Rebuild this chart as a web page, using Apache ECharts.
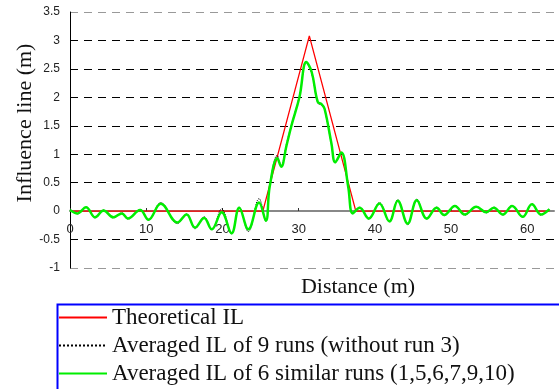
<!DOCTYPE html>
<html>
<head>
<meta charset="utf-8">
<script src="https://cdn.jsdelivr.net/npm/echarts@6/dist/echarts.min.js"></script>
<style>
  html, body { margin: 0; padding: 0; background: #fff; }
  #chart { width: 559px; height: 389px; }
</style>
</head>
<body>
<div id="chart"></div>
<script>
// theoretical influence line (triangle)
const theoX = [0, 25.3, 31.4, 37.5, 62.9]
const theoY = [0, 0, 3.08, 0, 0]

// averaged IL of 9 runs (without run 3)
const avg9X = [0, 1.0, 2.1, 3.3, 4.4, 5.7, 6.8, 7.6, 9.2, 10.3, 11.9, 14.1, 15.3, 16.4, 17.6, 18.6, 19.9, 21.2, 22.2, 23.4, 24.8, 25.7, 26.2, 27.2, 27.7, 28.4, 29.05, 30.1, 31.0, 31.7, 32.5, 33.0, 33.4, 34.3, 34.8, 35.6, 36.5, 37.1, 38.0, 39.2, 40.6, 41.9, 43.0, 44.3, 45.5, 46.8, 48.1, 49.1, 50.5, 51.8, 53.3, 54.6, 55.6, 56.8, 58.0, 59.4, 60.6, 61.8, 62.9]
const avg9Y = [0.03, -0.05, 0.07, -0.12, 0.02, -0.12, -0.03, -0.14, 0.03, -0.16, 0.15, -0.22, -0.05, -0.31, -0.1, -0.33, 0.04, -0.4, 0.07, -0.36, 0.22, -0.18, 0.45, 0.98, 0.8, 1.18, 1.52, 2.02, 2.6, 2.42, 1.9, 1.86, 1.78, 1.17, 0.85, 1.02, 0.42, -0.05, 0.07, -0.14, 0.15, -0.19, 0.2, -0.24, 0.21, -0.14, 0.07, -0.08, 0.1, -0.07, 0.08, -0.03, 0.07, -0.07, 0.1, -0.11, 0.13, -0.07, 0.04]

// averaged IL of 6 similar runs
const avg6X = [0, 1.0, 2.1, 3.3, 4.4, 5.7, 6.8, 7.6, 9.2, 10.3, 11.9, 14.1, 15.3, 16.4, 17.6, 18.6, 19.9, 21.2, 22.2, 23.4, 24.8, 25.7, 26.2, 27.2, 27.7, 28.4, 29.05, 30.1, 31.0, 31.7, 32.5, 33.0, 33.4, 34.3, 34.8, 35.6, 36.5, 37.1, 38.0, 39.2, 40.6, 41.9, 43.0, 44.3, 45.5, 46.8, 48.1, 49.1, 50.5, 51.8, 53.3, 54.6, 55.6, 56.8, 58.0, 59.4, 60.6, 61.8, 62.9]
const avg6Y = [0.02, -0.04, 0.07, -0.11, 0.01, -0.11, -0.04, -0.13, 0.02, -0.15, 0.13, -0.2, -0.06, -0.29, -0.12, -0.32, -0.02, -0.39, 0.06, -0.32, 0.15, -0.17, 0.43, 0.93, 0.78, 1.15, 1.5, 2.0, 2.62, 2.45, 1.92, 1.88, 1.8, 1.19, 0.86, 1.03, 0.43, -0.04, 0.06, -0.13, 0.135, -0.18, 0.18, -0.22, 0.19, -0.13, 0.06, -0.07, 0.09, -0.06, 0.075, -0.02, 0.06, -0.06, 0.09, -0.1, 0.12, -0.06, 0.035]

const seriesNames = [
  'Theoretical IL',
  'Averaged IL of 9 runs (without run 3)',
  'Averaged IL of 6 similar runs (1,5,6,7,9,10)'
]

const zip = (xs, ys) => xs.map((x, i) => [x, ys[i]])

const chart = echarts.init(document.getElementById('chart'), null, { renderer: 'canvas' })

// split line colours: outer frame lines gray, inner ones black
const gridColors = ['#999', '#000', '#000', '#000', '#000', '#000', '#000', '#000', '#000', '#999']

const option = {
  animation: false,
  backgroundColor: '#fff',
  grid: { left: 70, top: 12, right: 5, bottom: 121 },
  xAxis: {
    type: 'value',
    min: 0,
    max: 63.5,
    interval: 10,
    // axis sits on y = 0 (57px above the grid bottom)
    offset: -57,
    axisLine: { onZero: false, lineStyle: { color: '#888', width: 2 } },
    axisTick: { show: true, inside: true, length: 3, lineStyle: { color: '#333' } },
    axisLabel: {
      margin: 12,
      showMaxLabel: false,
      color: '#222',
      fontFamily: 'Liberation Sans',
      fontSize: 13
    },
    splitLine: { show: false }
  },
  yAxis: {
    type: 'value',
    min: -1,
    max: 3.5,
    interval: 0.5,
    axisLine: { show: true, onZero: false, lineStyle: { color: '#000', width: 1 } },
    axisTick: { show: false },
    axisLabel: {
      margin: 10,
      color: '#222',
      fontFamily: 'Liberation Sans',
      fontSize: 12
    },
    splitLine: {
      show: true,
      lineStyle: { color: gridColors, type: [8, 6], width: 1 }
    }
  },
  legend: {
    orient: 'vertical',
    left: 55,
    top: 303,
    height: 150,
    padding: [3, 4, 4, 3],
    itemWidth: 48,
    itemHeight: 10,
    itemGap: 5,
    itemStyle: { opacity: 0 },
    textStyle: {
      fontFamily: 'Liberation Serif',
      fontSize: 23,
      lineHeight: 22,
      color: '#111'
    },
    data: seriesNames
  },
  graphic: [
    {
      type: 'rect',
      left: 55,
      top: 302,
      shape: { width: 520, height: 120 },
      style: { fill: 'none', stroke: '#0000ff', lineWidth: 2 },
      z: 0
    },
    {
      type: 'text',
      x: 358,
      y: 287,
      style: {
        text: 'Distance (m)',
        fontFamily: 'Liberation Serif',
        fontSize: 22,
        fill: '#111',
        align: 'center',
        verticalAlign: 'middle'
      }
    },
    {
      type: 'text',
      x: 25,
      y: 123,
      rotation: Math.PI / 2,
      style: {
        text: 'Influence line (m)',
        fontFamily: 'Liberation Serif',
        fontSize: 22,
        fill: '#111',
        align: 'center',
        verticalAlign: 'middle'
      }
    }
  ],
  series: [
    {
      name: seriesNames[0],
      type: 'line',
      data: zip(theoX, theoY),
      symbol: 'none',
      lineStyle: { color: '#ff0000', width: 1.3 },
      itemStyle: { color: '#ff0000' },
      z: 3
    },
    {
      name: seriesNames[1],
      type: 'line',
      data: zip(avg9X, avg9Y),
      symbol: 'none',
      smooth: 0.4,
      lineStyle: { color: '#000', width: 1, type: 'dotted' },
      itemStyle: { color: '#000' },
      z: 4
    },
    {
      name: seriesNames[2],
      type: 'line',
      data: zip(avg6X, avg6Y),
      symbol: 'none',
      smooth: 0.4,
      lineStyle: { color: '#00ee00', width: 2.5 },
      itemStyle: { color: '#00ee00' },
      z: 5
    }
  ]
}

chart.setOption(option)
</script>
</body>
</html>
